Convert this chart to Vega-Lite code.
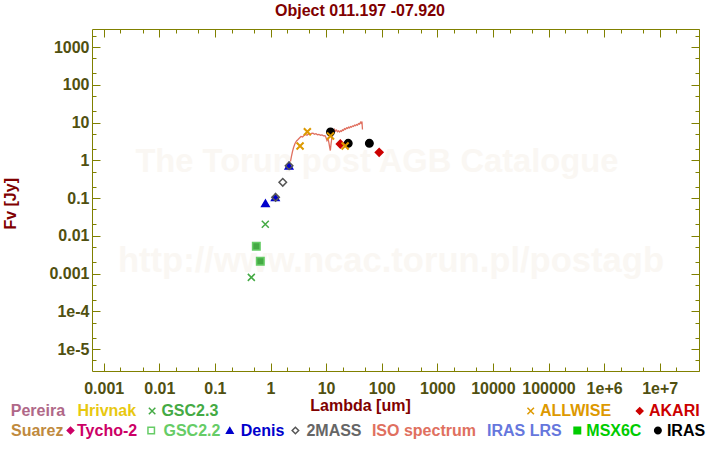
{
  "$schema": "https://vega.github.io/schema/vega-lite/v6.json",
  "width": 607,
  "height": 342,
  "autosize": {"type": "none"},
  "padding": {"left": 92, "top": 29, "right": 21, "bottom": 79},
  "background": "#ffffff",
  "title": {"text": "Object 011.197 -07.920", "font": "Liberation Sans", "fontSize": 16, "fontWeight": "bold", "color": "#800000", "anchor": "middle", "frame": "group", "dx": -35.5, "dy": 16, "baseline": "alphabetic", "offset": 12},
  "config": {
    "view": {"stroke": "#808000", "strokeWidth": 1},
    "font": "Liberation Sans",
    "axis": {"labelFont": "Liberation Sans", "labelFontSize": 16, "labelFontWeight": "bold", "labelColor": "#505010", "titleFont": "Liberation Sans", "titleFontSize": 16, "titleFontWeight": "bold", "titleColor": "#800000", "tickColor": "#808000", "tickWidth": 1, "domain": false, "grid": false},
    "legend": {"labelFont": "Liberation Sans", "labelFontSize": 16, "labelFontWeight": "bold", "symbolSize": 42, "symbolStrokeWidth": 1.5, "symbolOpacity": 1, "padding": 0, "labelLimit": 300}
  },
  "datasets": {
    "wm": [
      {"label": "The Torun post AGB Catalogue", "lambda": 82, "flux": 0.9},
      {"label": "http://www.ncac.torun.pl/postagb", "lambda": 147, "flux": 0.002}
    ],
    "phot": [
      {"series": "Denis", "lambda": 0.81, "flux": 0.0724},
      {"series": "Denis", "lambda": 1.22, "flux": 0.104},
      {"series": "Denis", "lambda": 2.15, "flux": 0.717},
      {"series": "GSC2.2", "lambda": 0.556, "flux": 0.00526},
      {"series": "GSC2.2", "lambda": 0.656, "flux": 0.0021},
      {"series": "2MASS", "lambda": 1.235, "flux": 0.104},
      {"series": "2MASS", "lambda": 1.662, "flux": 0.26},
      {"series": "2MASS", "lambda": 2.159, "flux": 0.717},
      {"series": "IRAS", "lambda": 12, "flux": 5.6},
      {"series": "IRAS", "lambda": 25, "flux": 2.81},
      {"series": "IRAS", "lambda": 60, "flux": 2.81},
      {"series": "GSC2.3", "lambda": 0.452, "flux": 0.00079},
      {"series": "GSC2.3", "lambda": 0.806, "flux": 0.0201},
      {"series": "AKARI", "lambda": 18, "flux": 2.69},
      {"series": "AKARI", "lambda": 90, "flux": 1.62},
      {"series": "ALLWISE", "lambda": 3.4, "flux": 2.39},
      {"series": "ALLWISE", "lambda": 4.6, "flux": 5.71},
      {"series": "ALLWISE", "lambda": 12, "flux": 4.39},
      {"series": "ALLWISE", "lambda": 22, "flux": 2.39}
    ],
    "iso": [
      {"series": "ISO spectrum", "lambda": 2.29, "flux": 0.927},
      {"series": "ISO spectrum", "lambda": 2.38, "flux": 1.26},
      {"series": "ISO spectrum", "lambda": 2.49, "flux": 1.71},
      {"series": "ISO spectrum", "lambda": 2.6, "flux": 2.18},
      {"series": "ISO spectrum", "lambda": 2.76, "flux": 2.79},
      {"series": "ISO spectrum", "lambda": 2.94, "flux": 3.25},
      {"series": "ISO spectrum", "lambda": 3.13, "flux": 3.55},
      {"series": "ISO spectrum", "lambda": 3.32, "flux": 3.89},
      {"series": "ISO spectrum", "lambda": 3.53, "flux": 4.26},
      {"series": "ISO spectrum", "lambda": 3.77, "flux": 4.14},
      {"series": "ISO spectrum", "lambda": 4.0, "flux": 4.53},
      {"series": "ISO spectrum", "lambda": 4.26, "flux": 4.82},
      {"series": "ISO spectrum", "lambda": 4.53, "flux": 4.6},
      {"series": "ISO spectrum", "lambda": 4.82, "flux": 4.97},
      {"series": "ISO spectrum", "lambda": 5.13, "flux": 4.75},
      {"series": "ISO spectrum", "lambda": 5.46, "flux": 5.13},
      {"series": "ISO spectrum", "lambda": 5.81, "flux": 5.2},
      {"series": "ISO spectrum", "lambda": 6.18, "flux": 4.9},
      {"series": "ISO spectrum", "lambda": 6.58, "flux": 5.05},
      {"series": "ISO spectrum", "lambda": 7.0, "flux": 4.75},
      {"series": "ISO spectrum", "lambda": 7.45, "flux": 4.82},
      {"series": "ISO spectrum", "lambda": 7.93, "flux": 4.6},
      {"series": "ISO spectrum", "lambda": 8.44, "flux": 4.68},
      {"series": "ISO spectrum", "lambda": 8.98, "flux": 4.45},
      {"series": "ISO spectrum", "lambda": 9.55, "flux": 4.5},
      {"series": "ISO spectrum", "lambda": 9.96, "flux": 4.01},
      {"series": "ISO spectrum", "lambda": 10.37, "flux": 3.34},
      {"series": "ISO spectrum", "lambda": 10.85, "flux": 3.78},
      {"series": "ISO spectrum", "lambda": 11.28, "flux": 2.79},
      {"series": "ISO spectrum", "lambda": 11.6, "flux": 2.18},
      {"series": "ISO spectrum", "lambda": 11.92, "flux": 1.81},
      {"series": "ISO spectrum", "lambda": 12.24, "flux": 2.62},
      {"series": "ISO spectrum", "lambda": 12.66, "flux": 3.78},
      {"series": "ISO spectrum", "lambda": 12.98, "flux": 5.13},
      {"series": "ISO spectrum", "lambda": 13.62, "flux": 6.0},
      {"series": "ISO spectrum", "lambda": 14.15, "flux": 6.6},
      {"series": "ISO spectrum", "lambda": 14.79, "flux": 5.9},
      {"series": "ISO spectrum", "lambda": 15.43, "flux": 6.3},
      {"series": "ISO spectrum", "lambda": 16.07, "flux": 5.7},
      {"series": "ISO spectrum", "lambda": 16.7, "flux": 6.0},
      {"series": "ISO spectrum", "lambda": 17.45, "flux": 5.6},
      {"series": "ISO spectrum", "lambda": 18.19, "flux": 6.0},
      {"series": "ISO spectrum", "lambda": 18.94, "flux": 5.8},
      {"series": "ISO spectrum", "lambda": 19.68, "flux": 6.4},
      {"series": "ISO spectrum", "lambda": 20.54, "flux": 6.2},
      {"series": "ISO spectrum", "lambda": 21.39, "flux": 6.9},
      {"series": "ISO spectrum", "lambda": 22.34, "flux": 6.6},
      {"series": "ISO spectrum", "lambda": 23.3, "flux": 7.2},
      {"series": "ISO spectrum", "lambda": 24.26, "flux": 7.0},
      {"series": "ISO spectrum", "lambda": 25.32, "flux": 7.5},
      {"series": "ISO spectrum", "lambda": 26.39, "flux": 7.2},
      {"series": "ISO spectrum", "lambda": 27.45, "flux": 7.8},
      {"series": "ISO spectrum", "lambda": 28.62, "flux": 7.5},
      {"series": "ISO spectrum", "lambda": 29.79, "flux": 8.1},
      {"series": "ISO spectrum", "lambda": 31.07, "flux": 7.9},
      {"series": "ISO spectrum", "lambda": 32.45, "flux": 8.5},
      {"series": "ISO spectrum", "lambda": 33.73, "flux": 8.2},
      {"series": "ISO spectrum", "lambda": 35.22, "flux": 8.8},
      {"series": "ISO spectrum", "lambda": 36.71, "flux": 8.5},
      {"series": "ISO spectrum", "lambda": 38.2, "flux": 9.3},
      {"series": "ISO spectrum", "lambda": 39.9, "flux": 9.0},
      {"series": "ISO spectrum", "lambda": 41.6, "flux": 10.2},
      {"series": "ISO spectrum", "lambda": 42.99, "flux": 9.6},
      {"series": "ISO spectrum", "lambda": 44.16, "flux": 10.6},
      {"series": "ISO spectrum", "lambda": 45.11, "flux": 6.54}
    ]
  },
  "layer": [
    {
      "data": {"name": "wm"},
      "mark": {"type": "text", "font": "Liberation Sans", "fontWeight": "bold", "color": "#faf7f3", "align": "center", "baseline": "middle"},
      "encoding": {
        "x": {"field": "lambda", "type": "quantitative", "scale": {"type": "log", "domain": [0.000616, 50900000], "nice": false},
          "axis": {"orient": "bottom", "values": [0.001,0.002,0.005,0.01,0.02,0.05,0.1,0.2,0.5,1,2,5,10,20,50,100,200,500,1000,2000,5000,10000,20000,50000,100000,200000,500000,1000000,2000000,5000000,10000000,20000000,50000000],
            "tickSize": {"condition": {"test": "abs(log(datum.value)/LN10 - round(log(datum.value)/LN10)) < 0.001", "value": -8}, "value": -4},
            "labelExpr": "abs(log(datum.value)/LN10 - round(log(datum.value)/LN10)) < 0.001 ? (datum.value >= 1000000 ? '1e+' + round(log(datum.value)/LN10) : (datum.value < 0.0009 ? '1e' + round(log(datum.value)/LN10) : '' + datum.value)) : ''",
            "labelPadding": 17, "labelFlush": false, "labelOverlap": false, "labelAngle": 0,
            "title": "Lambda [um]", "titleX": 268, "titleY": 39, "titleBaseline": "alphabetic", "titleAlign": "center"}},
        "y": {"field": "flux", "type": "quantitative", "scale": {"type": "log", "domain": [0.000002614, 2998], "nice": false},
          "axis": {"orient": "left", "values": [0.000005,0.00001,0.00002,0.00005,0.0001,0.0002,0.0005,0.001,0.002,0.005,0.01,0.02,0.05,0.1,0.2,0.5,1,2,5,10,20,50,100,200,500,1000,2000],
            "tickSize": {"condition": {"test": "abs(log(datum.value)/LN10 - round(log(datum.value)/LN10)) < 0.001", "value": -8}, "value": -4},
            "labelExpr": "abs(log(datum.value)/LN10 - round(log(datum.value)/LN10)) < 0.001 ? (datum.value >= 1000000 ? '1e+' + round(log(datum.value)/LN10) : (datum.value < 0.0009 ? '1e' + round(log(datum.value)/LN10) : '' + datum.value)) : ''",
            "labelPadding": 11, "labelFlush": false, "labelOverlap": false,
            "title": "Fv [Jy]", "titleX": -77, "titleY": 174.3, "titleBaseline": "alphabetic", "titleAlign": "center", "titleAngle": 270}},
        "text": {"field": "label", "type": "nominal"},
        "size": {"field": "label", "type": "nominal", "legend": null, "scale": {"domain": ["The Torun post AGB Catalogue", "http://www.ncac.torun.pl/postagb"], "range": [32.7, 34.6]}}
      }
    },
    {
      "layer": [
        {
          "data": {"name": "iso"},
          "mark": {"type": "line", "strokeWidth": 1.3, "interpolate": "linear"},
          "encoding": {
            "x": {"field": "lambda", "type": "quantitative", "scale": {"type": "log", "domain": [0.000616, 50900000], "nice": false}, "axis": null},
            "y": {"field": "flux", "type": "quantitative", "scale": {"type": "log", "domain": [0.000002614, 2998], "nice": false}, "axis": null},
            "color": {"field": "series", "type": "nominal", "scale": {"domain": ["Suarez","Tycho-2","GSC2.2","Denis","2MASS","ISO spectrum","IRAS LRS","MSX6C","IRAS"], "range": ["#c08a3e","#cc0066","#66cc66","#0000cc","#555555","#e07060","#6677dd","#00cc00","#000000"]}}
          }
        },
        {
          "data": {"name": "phot"},
          "transform": [{"filter": {"field": "series", "oneOf": ["Denis","GSC2.2","2MASS","IRAS"]}}],
          "mark": {"type": "point", "filled": false, "opacity": 1, "size": 56, "strokeWidth": 1.5},
          "encoding": {
            "x": {"field": "lambda", "type": "quantitative", "scale": {"type": "log", "domain": [0.000616, 50900000], "nice": false}, "axis": null},
            "y": {"field": "flux", "type": "quantitative", "scale": {"type": "log", "domain": [0.000002614, 2998], "nice": false}, "axis": null},
            "color": {"field": "series", "type": "nominal", "scale": {"domain": ["Suarez","Tycho-2","GSC2.2","Denis","2MASS","ISO spectrum","IRAS LRS","MSX6C","IRAS"], "range": ["#c08a3e","#cc0066","#66cc66","#0000cc","#555555","#e07060","#6677dd","#00cc00","#000000"]},
              "legend": {"orient": "none", "legendX": -81, "legendY": 393.5, "direction": "horizontal", "title": null, "columnPadding": 0,
                "labelColor": {"expr": "({'Suarez':'#c08a3e','Tycho-2':'#cc0066','GSC2.2':'#66cc66','Denis':'#0000cc','2MASS':'#666666','ISO spectrum':'#e07060','IRAS LRS':'#6677dd','MSX6C':'#00cc00','IRAS':'#000000'})[datum.value]"},
                "symbolOffset": {"expr": "({'Tycho-2':-1.5,'GSC2.2':5.2,'Denis':0.8,'2MASS':2.4,'MSX6C':7.3,'IRAS':7.9})[datum.value] || 0"},
                "labelOffset": {"expr": "({'Suarez':-16,'Tycho-2':-1.5,'GSC2.2':4.3,'Denis':3,'2MASS':3,'ISO spectrum':-6.1,'IRAS LRS':-5,'MSX6C':1,'IRAS':1})[datum.value]"},
                "encoding": {"symbols": {"fill": {"value": {"expr": "({'Tycho-2':'#cc0066','Denis':'#0000cc','MSX6C':'#00cc00','IRAS':'#000000'})[datum.value] || 'transparent'"}}}}}},
            "shape": {"field": "series", "type": "nominal", "scale": {"domain": ["Suarez","Tycho-2","GSC2.2","Denis","2MASS","ISO spectrum","IRAS LRS","MSX6C","IRAS"], "range": ["M0,0","diamond","square","triangle-up","diamond","M0,0","M0,0","square","circle"]}},
            "fill": {"field": "series", "type": "nominal", "legend": null, "scale": {"domain": ["Pereira","Hrivnak","GSC2.3","ALLWISE","AKARI","Suarez","Tycho-2","GSC2.2","Denis","2MASS","ISO spectrum","IRAS LRS","MSX6C","IRAS"], "range": ["transparent","transparent","transparent","transparent","#cc0000","transparent","#cc0066","#44aa44","#0000cc","transparent","transparent","transparent","#00cc00","#000000"]}}
          }
        }
      ]
    },
    {
      "data": {"name": "phot"},
      "transform": [{"filter": {"field": "series", "oneOf": ["GSC2.3"]}}],
      "mark": {"type": "point", "filled": false, "opacity": 1, "size": 49, "strokeWidth": 1.5},
      "encoding": {
        "x": {"field": "lambda", "type": "quantitative", "scale": {"type": "log", "domain": [0.000616, 50900000], "nice": false}, "axis": null},
        "y": {"field": "flux", "type": "quantitative", "scale": {"type": "log", "domain": [0.000002614, 2998], "nice": false}, "axis": null},
        "color": {"field": "series", "type": "nominal", "scale": {"domain": ["Pereira","Hrivnak","GSC2.3"], "range": ["#b06888","#e8c810","#44aa44"]},
          "legend": {"orient": "none", "legendX": -81.2, "legendY": 374, "direction": "horizontal", "title": null, "columnPadding": 0,
            "labelColor": {"expr": "({'Pereira':'#b06888','Hrivnak':'#e8c810','GSC2.3':'#44aa44'})[datum.value]"},
            "symbolOffset": {"expr": "datum.value == 'GSC2.3' ? 7.3 : 0"},
            "labelOffset": {"expr": "({'Pereira':-16,'Hrivnak':-4.4,'GSC2.3':1.3})[datum.value]"},
            "encoding": {"symbols": {"fill": {"value": "transparent"}}}}},
        "shape": {"field": "series", "type": "nominal", "scale": {"domain": ["Pereira","Hrivnak","GSC2.3"], "range": ["M0,0","M0,0","M-1,-1L1,1M-1,1L1,-1"]}},
        "fill": {"field": "series", "type": "nominal", "legend": null, "scale": {"domain": ["Pereira","Hrivnak","GSC2.3","ALLWISE","AKARI","Suarez","Tycho-2","GSC2.2","Denis","2MASS","ISO spectrum","IRAS LRS","MSX6C","IRAS"], "range": ["transparent","transparent","transparent","transparent","#cc0000","transparent","#cc0066","#44aa44","#0000cc","transparent","transparent","transparent","#00cc00","#000000"]}}
      }
    },
    {
      "data": {"name": "phot"},
      "transform": [{"filter": {"field": "series", "oneOf": ["AKARI","ALLWISE"]}}],
      "mark": {"type": "point", "filled": false, "opacity": 1, "size": 49, "strokeWidth": 2},
      "encoding": {
        "x": {"field": "lambda", "type": "quantitative", "scale": {"type": "log", "domain": [0.000616, 50900000], "nice": false},
          "axis": {"orient": "top", "values": [0.001,0.002,0.005,0.01,0.02,0.05,0.1,0.2,0.5,1,2,5,10,20,50,100,200,500,1000,2000,5000,10000,20000,50000,100000,200000,500000,1000000,2000000,5000000,10000000,20000000,50000000],
            "tickSize": {"condition": {"test": "abs(log(datum.value)/LN10 - round(log(datum.value)/LN10)) < 0.001", "value": -8}, "value": -4},
            "labels": false, "title": null}},
        "y": {"field": "flux", "type": "quantitative", "scale": {"type": "log", "domain": [0.000002614, 2998], "nice": false},
          "axis": {"orient": "right", "values": [0.000005,0.00001,0.00002,0.00005,0.0001,0.0002,0.0005,0.001,0.002,0.005,0.01,0.02,0.05,0.1,0.2,0.5,1,2,5,10,20,50,100,200,500,1000,2000],
            "tickSize": {"condition": {"test": "abs(log(datum.value)/LN10 - round(log(datum.value)/LN10)) < 0.001", "value": -8}, "value": -4},
            "labels": false, "title": null}},
        "color": {"field": "series", "type": "nominal", "scale": {"domain": ["ALLWISE","AKARI"], "range": ["#dd9900","#cc0000"]},
          "legend": {"orient": "none", "legendX": 430.7, "legendY": 374, "direction": "horizontal", "title": null, "columnPadding": 0,
            "labelColor": {"expr": "({'ALLWISE':'#dd9900','AKARI':'#cc0000'})[datum.value]"},
            "symbolOffset": {"expr": "datum.value == 'AKARI' ? 20 : 0"},
            "labelOffset": 1.3,
            "encoding": {"symbols": {"fill": {"value": {"expr": "datum.value == 'AKARI' ? '#cc0000' : 'transparent'"}}}}}},
        "shape": {"field": "series", "type": "nominal", "scale": {"domain": ["ALLWISE","AKARI"], "range": ["M-1,-1L1,1M-1,1L1,-1","diamond"]}},
        "fill": {"field": "series", "type": "nominal", "legend": null, "scale": {"domain": ["Pereira","Hrivnak","GSC2.3","ALLWISE","AKARI","Suarez","Tycho-2","GSC2.2","Denis","2MASS","ISO spectrum","IRAS LRS","MSX6C","IRAS"], "range": ["transparent","transparent","transparent","transparent","#cc0000","transparent","#cc0066","#44aa44","#0000cc","transparent","transparent","transparent","#00cc00","#000000"]}}
      }
    }
  ],
  "resolve": {
    "scale": {"color": "independent", "shape": "independent"},
    "legend": {"color": "independent", "shape": "independent"},
    "axis": {"x": "independent", "y": "independent"}
  }
}
